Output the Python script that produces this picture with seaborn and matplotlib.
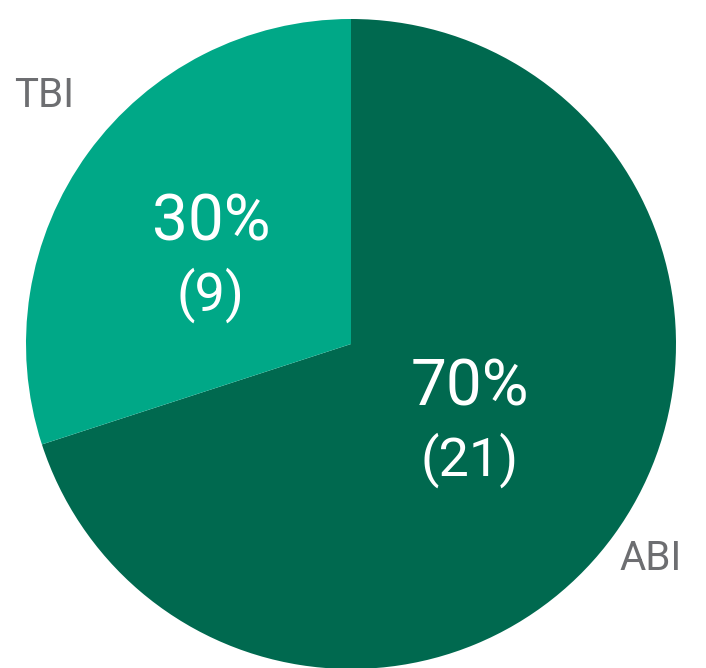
import numpy as np
import matplotlib
matplotlib.use("Agg")
import matplotlib.pyplot as plt
import seaborn as sns

labels = ["ABI", "TBI"]
counts = [21, 9]
colors = ["#00694f", "#00a887"]

sns.set_theme(style="white")
plt.rcParams["font.family"] = ["Roboto", "DejaVu Sans"]

fig = plt.figure(figsize=(7.06, 6.68), dpi=100)
ax = fig.add_axes([0, 0, 1, 1])

R = 325
wedges, _ = ax.pie(counts, colors=colors, startangle=90, counterclock=False,
                   radius=R, center=(0, 0), frame=True,
                   wedgeprops=dict(linewidth=0))
ax.set_xlim(-351, 355)
ax.set_ylim(-324, 344)
ax.set_aspect("equal")
ax.axis("off")

total = sum(counts)
# (radius fraction, angle offset in degrees) for inside and outside labels
inner_pos = {"ABI": (0.441, 2.1), "TBI": (0.505, 4.7)}
outer_pos = {"ABI": (1.134, 0.5), "TBI": (1.216, -3.05)}


def polar(theta_deg, frac):
    t = np.deg2rad(theta_deg)
    return np.cos(t) * frac * R, np.sin(t) * frac * R


for w, lab, n in zip(wedges, labels, counts):
    mid = (w.theta1 + w.theta2) / 2
    fr, off = inner_pos[lab]
    x, y = polar(mid + off, fr)
    ax.text(x, y + 36, f"{round(100 * n / total)}%", color="white",
            fontsize=46, ha="center", va="center")
    ax.text(x, y - 36, f"({n})", color="white",
            fontsize=39, ha="center", va="center")
    fr, off = outer_pos[lab]
    x, y = polar(mid + off, fr)
    ax.text(x, y, lab, color="#6d6e71", fontsize=29, ha="center", va="center")

fig.savefig("out.png", dpi=100)
